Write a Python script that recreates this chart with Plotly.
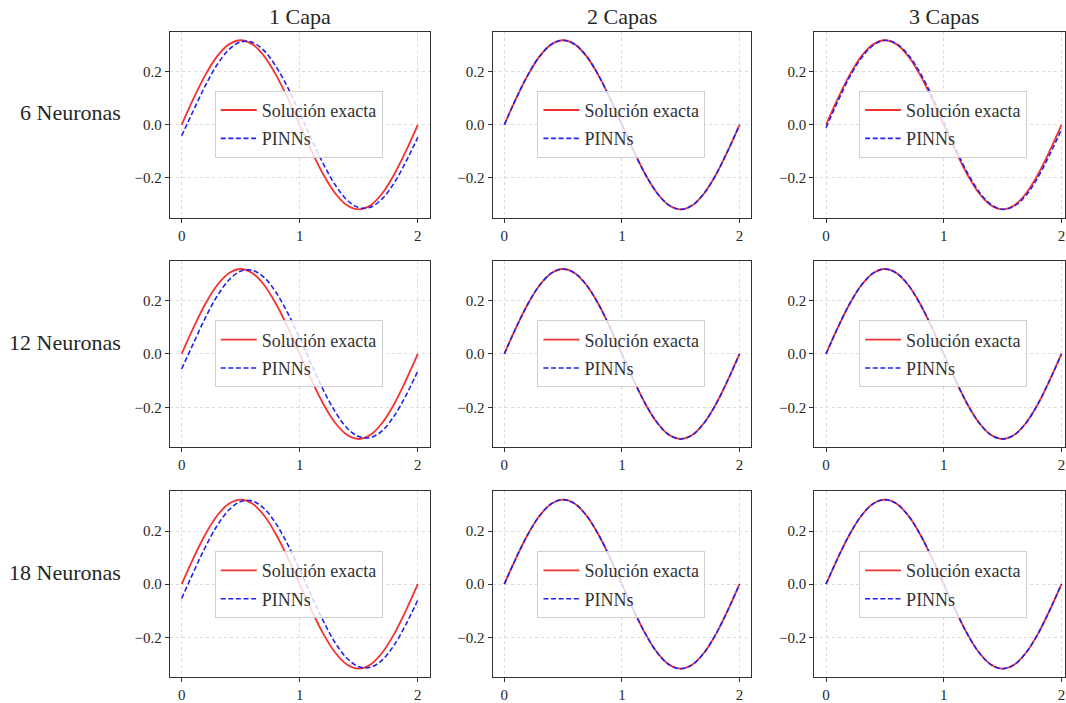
import plotly.graph_objects as go

# Sample points along x
x_vals = [0.0, 0.1, 0.2, 0.3, 0.4, 0.5, 0.6, 0.7, 0.8, 0.9, 1.0,
          1.1, 1.2, 1.3, 1.4, 1.5, 1.6, 1.7, 1.8, 1.9, 2.0]

# Exact solution
exacta = [0.0, 0.0984, 0.1871, 0.2575, 0.3027, 0.3183, 0.3027, 0.2575, 0.1871, 0.0984, 0.0,
          -0.0984, -0.1871, -0.2575, -0.3027, -0.3183, -0.3027, -0.2575, -0.1871, -0.0984, 0.0]

# PINN predictions per (neurons, layers)
pinn_6n_1c = [-0.041, 0.054, 0.147, 0.226, 0.283, 0.312, 0.310, 0.278, 0.219, 0.139, 0.044,
              -0.054, -0.147, -0.226, -0.283, -0.312, -0.310, -0.278, -0.219, -0.139, -0.047]
pinn_6n_2c = [0.0, 0.0984, 0.1871, 0.2575, 0.3027, 0.3183, 0.3027, 0.2575, 0.1871, 0.0984, 0.0,
              -0.0984, -0.1871, -0.2575, -0.3027, -0.3183, -0.3027, -0.2575, -0.1871, -0.0984, 0.0]
pinn_6n_3c = [-0.011, 0.088, 0.179, 0.251, 0.299, 0.318, 0.305, 0.263, 0.195, 0.108, 0.010,
              -0.089, -0.180, -0.252, -0.300, -0.318, -0.306, -0.265, -0.198, -0.112, -0.018]
pinn_12n_1c = [-0.056, 0.040, 0.135, 0.216, 0.277, 0.310, 0.313, 0.286, 0.230, 0.152, 0.059,
               -0.040, -0.135, -0.216, -0.277, -0.309, -0.313, -0.287, -0.232, -0.155, -0.064]
pinn_12n_2c = [0.0, 0.0984, 0.1871, 0.2575, 0.3027, 0.3183, 0.3027, 0.2575, 0.1871, 0.0984, 0.0,
               -0.0984, -0.1871, -0.2575, -0.3027, -0.3183, -0.3027, -0.2575, -0.1871, -0.0984, 0.0]
pinn_12n_3c = [0.0, 0.0984, 0.1871, 0.2575, 0.3027, 0.3183, 0.3027, 0.2575, 0.1871, 0.0984, 0.0,
               -0.0984, -0.1871, -0.2575, -0.3027, -0.3183, -0.3027, -0.2575, -0.1871, -0.0984, 0.0]
pinn_18n_1c = [-0.054, 0.045, 0.139, 0.220, 0.279, 0.311, 0.313, 0.284, 0.227, 0.148, 0.054,
               -0.045, -0.139, -0.220, -0.279, -0.311, -0.313, -0.285, -0.229, -0.151, -0.060]
pinn_18n_2c = [0.0, 0.0984, 0.1871, 0.2575, 0.3027, 0.3183, 0.3027, 0.2575, 0.1871, 0.0984, 0.0,
               -0.0984, -0.1871, -0.2575, -0.3027, -0.3183, -0.3027, -0.2575, -0.1871, -0.0984, 0.0]
pinn_18n_3c = [0.0, 0.0984, 0.1871, 0.2575, 0.3027, 0.3183, 0.3027, 0.2575, 0.1871, 0.0984, 0.0,
               -0.0984, -0.1871, -0.2575, -0.3027, -0.3183, -0.3027, -0.2575, -0.1871, -0.0984, 0.0]

row_labels = ["6 Neuronas", "12 Neuronas", "18 Neuronas"]
col_titles = ["1 Capa", "2 Capas", "3 Capas"]
x_ticks = [0, 1, 2]
y_ticks = [-0.2, 0.0, 0.2]
y_tick_text = ["\u22120.2", "0.0", "0.2"]

pinn_grid = [
    [pinn_6n_1c, pinn_6n_2c, pinn_6n_3c],
    [pinn_12n_1c, pinn_12n_2c, pinn_12n_3c],
    [pinn_18n_1c, pinn_18n_2c, pinn_18n_3c],
]

W, H = 1066, 703
FONT = "Liberation Serif"
TXT = "#262626"

# panel geometry in pixels
col_px = [(170, 430), (493, 752), (815, 1066)]
row_px = [(32, 219), (262, 450), (494, 681)]
col_xrange = [[-0.1, 2.1], [-0.1, 2.1], [-0.1, 2.03]]
legend_cx = [299, 622, 944]
legend_cy = [125, 356, 588]

fig = go.Figure()
layout = dict(
    width=W, height=H,
    margin=dict(l=0, r=0, t=0, b=0),
    paper_bgcolor="white", plot_bgcolor="white",
    font=dict(family=FONT, color=TXT, size=15),
    annotations=[],
)

for r in range(3):
    for c in range(3):
        k = r * 3 + c + 1
        sfx = "" if k == 1 else str(k)
        xa, ya = "x" + sfx, "y" + sfx
        lg = "legend" + sfx
        fig.add_trace(go.Scatter(
            x=x_vals, y=exacta, mode="lines", name="Soluci\u00f3n exacta",
            line=dict(color="#f53232", width=1.8, shape="spline"),
            xaxis=xa, yaxis=ya, legend=lg, legendgroup="a%d" % k,
        ))
        fig.add_trace(go.Scatter(
            x=x_vals, y=pinn_grid[r][c], mode="lines", name="PINNs",
            line=dict(color="#2020f0", width=1.6, dash="5px,2.6px", shape="spline"),
            xaxis=xa, yaxis=ya, legend=lg, legendgroup="b%d" % k,
        ))
        x0, x1 = col_px[c]
        y0, y1 = row_px[r]
        axis_common = dict(
            showline=True, linecolor="#333333", linewidth=1, mirror=True,
            ticks="outside", ticklen=4, tickcolor="#333333", tickwidth=1,
            showgrid=True, gridcolor="#dcdcdc", griddash="dot", gridwidth=1,
            zeroline=False, tickfont=dict(family=FONT, size=15, color=TXT),
            fixedrange=True,
        )
        layout["xaxis" + sfx] = dict(
            domain=[x0 / W, x1 / W], anchor=ya, range=col_xrange[c],
            tickvals=x_ticks, ticktext=[str(t) for t in x_ticks], **axis_common,
        )
        layout["yaxis" + sfx] = dict(
            domain=[1 - y1 / H, 1 - y0 / H], anchor=xa, range=[-0.35, 0.35],
            tickvals=y_ticks, ticktext=y_tick_text, **axis_common,
        )
        layout[lg] = dict(
            x=legend_cx[c] / W, y=1 - legend_cy[r] / H,
            xanchor="center", yanchor="middle",
            bgcolor="rgba(255,255,255,0.8)", bordercolor="#d0d0d0", borderwidth=1,
            font=dict(family=FONT, size=18, color="#333333"),
            tracegroupgap=2, traceorder="grouped", itemwidth=36,
        )

for c, t in enumerate(col_titles):
    cx = (col_px[c][0] + col_px[c][1]) / 2 if c < 2 else 945
    layout["annotations"].append(dict(
        text=t, x=cx / W, y=1 - 17 / H, xref="paper", yref="paper",
        xanchor="center", yanchor="middle", showarrow=False,
        font=dict(family=FONT, size=22, color=TXT),
    ))

for r, t in enumerate(row_labels):
    layout["annotations"].append(dict(
        text=t, x=123 / W, y=1 - (legend_cy[r] - 12) / H, xref="paper", yref="paper",
        xanchor="right", yanchor="middle", showarrow=False,
        font=dict(family=FONT, size=22, color=TXT),
    ))

fig.update_layout(**layout)
fig.write_html("out.html")
